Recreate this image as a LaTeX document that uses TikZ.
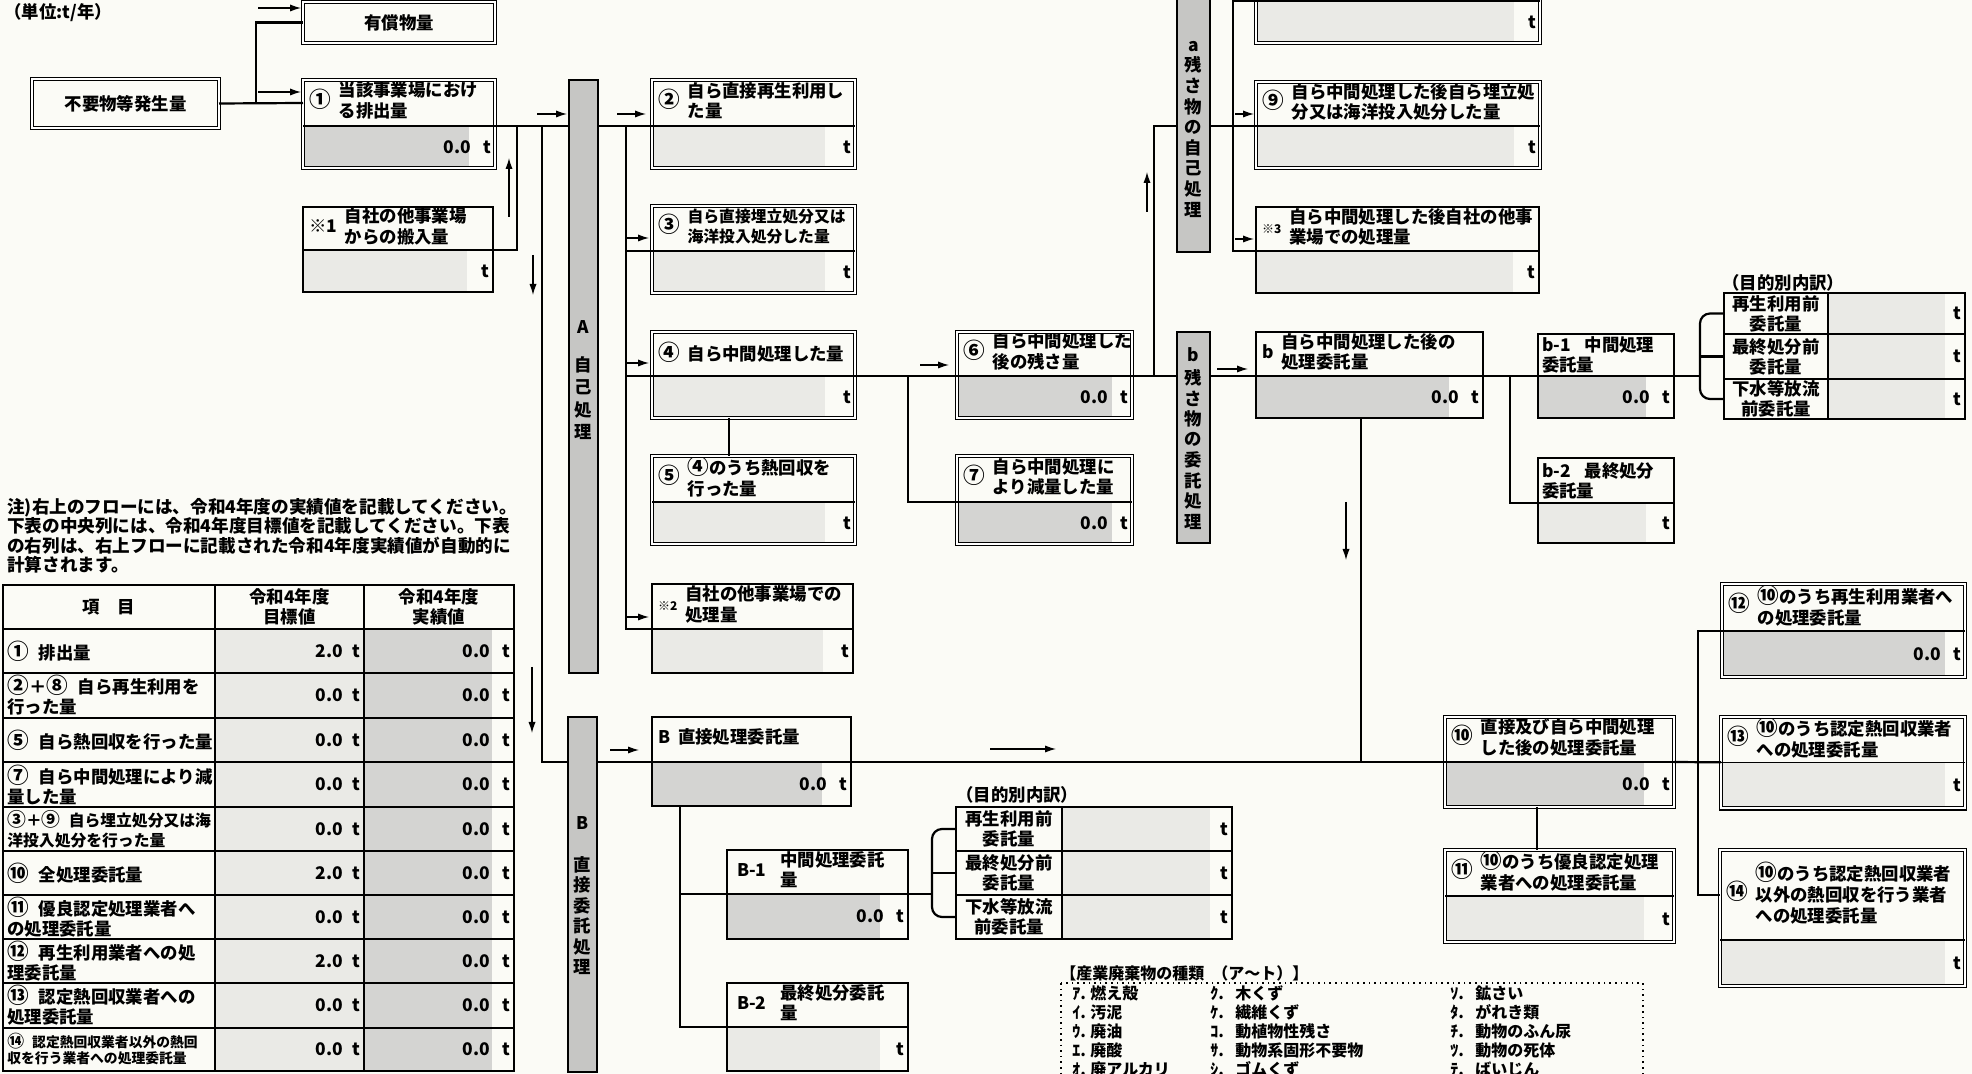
\documentclass[tikz,border=0pt]{standalone}
\usepackage{fontspec}
\setmainfont{Noto Sans CJK JP}
\usetikzlibrary{arrows.meta}

\definecolor{paper}{RGB}{251,251,246}
\definecolor{darkfill}{RGB}{212,212,210}
\definecolor{lightfill}{RGB}{234,234,230}
\definecolor{barfill}{RGB}{198,198,196}

\newcommand\lbl{\fontsize{8.7pt}{10pt}\selectfont\bfseries}
\newcommand\narrow{\fontsize{7.9pt}{10pt}\selectfont\bfseries}
\newcommand\notefont{\fontsize{8.8pt}{9.65pt}\selectfont\bfseries}
\newcommand\lgd{\fontsize{8pt}{9.5pt}\selectfont\bfseries}
\newcommand\smallrow{\fontsize{6.9pt}{8pt}\selectfont\bfseries}
\newcommand\sm{\fontsize{6pt}{7pt}\selectfont\bfseries}
% circled numbers, drawn a little larger
\newcommand\cn[1]{{\fontsize{10.8pt}{10pt}\selectfont#1}}
\newcommand\cns[1]{{\fontsize{9.4pt}{10pt}\selectfont#1}}

% header: number column + text column
\newcommand\hd[3][]{\begin{tabular}{@{}l@{\hspace{4pt}}l@{}}\hspace*{1pt}#2 & #1\begin{tabular}{@{}l@{}}#3\end{tabular}\end{tabular}}
% value row: amount and unit
\newcommand\tv[2][6pt]{#2\hspace{6pt}t\hspace*{#1}}

\tikzset{
  conn/.style={line width=1.1pt},
  flowarrow/.style={line width=0.6pt, -{Latex[length=5.5pt,width=3.6pt]}},
  sgl/.style={line width=0.8pt},
  dbl/.style={double, double distance=1.1pt, line width=0.55pt},
  hdr/.style={inner xsep=2pt, inner ysep=0pt, outer sep=0pt, align=left, font=\lbl},
  valcell/.style={inner xsep=2pt, inner ysep=0pt, outer sep=0pt, align=right, font=\lbl},
  darkval/.style={path picture={\fill[darkfill] (path picture bounding box.south west) rectangle ([xshift=-#1]path picture bounding box.north east);}},
  darkval/.default=13pt,
  lightval/.style={path picture={\fill[lightfill] (path picture bounding box.south west) rectangle ([xshift=-#1]path picture bounding box.north east);}},
  lightval/.default=13pt,
  plainbox/.style={draw, dbl, inner sep=0pt, outer sep=0pt, font=\lbl},
  procbar/.style={draw, line width=1pt, fill=barfill, inner sep=0pt, outer sep=0pt},
  barlbl/.style={font=\lbl, inner sep=0pt},
  cell/.style={draw, line width=0.7pt, inner xsep=2pt, inner ysep=0pt, outer sep=0pt, font=\lbl},
  itemlbl/.style={align=left, anchor=west, inner sep=0pt},
  lgdtxt/.style={font=\lgd, anchor=west, inner sep=0pt},
}

% box with header row and value row
\newcommand\flowbox[9][sgl]{%
  \pgfmathsetlengthmacro\fbw{#4*0.5pt-4pt}%
  \node[hdr, text width=\fbw, minimum height=#5*0.5pt, anchor=north west] (#2) at (#3) {#8};
  \node[valcell, #7, text width=\fbw, minimum height=#6*0.5pt, anchor=north west] (#2v) at (#2.south west) {#9};
  \draw[#1] (#2.north west) rectangle (#2v.south east);
  \draw[sgl] (#2.south west) -- (#2.south east);
}

\begin{document}
\begin{tikzpicture}[x=0.5pt,y=-0.5pt]
\useasboundingbox (0,0) rectangle (1972,1074);
\clip (0,0) rectangle (1972,1074);
\fill[paper] (0,0) rectangle (1972,1074);

\node[font=\lbl, anchor=west, inner sep=0pt] (unit) at (4,13) {（単位:t/年）};

% sources
\node[plainbox, minimum width=93.5pt, minimum height=24.5pt, anchor=north west] (gen) at (32,79) {不要物等発生量};
\node[plainbox, minimum width=96pt, minimum height=20.5pt, anchor=north west] (yusho) at (303,2) {有償物量};

% self processing
\flowbox[dbl]{q1}{303,80}{192}{46}{42}{darkval}{\hd{\cn{①}}{当該事業場におけ\\る排出量}}{\tv{0.0}}
\flowbox{s1}{303,207}{190}{43}{42}{lightval}{\hd{※1}{自社の他事業場\\からの搬入量}}{\tv{}}
\flowbox[dbl]{q2}{652,80}{203}{46}{42}{lightval=15pt}{\hd{\cn{②}}{自ら直接再生利用し\\た量}}{\tv[10pt]{}}
\flowbox[dbl]{q3}{652,206}{203}{45}{42}{lightval=15pt}{\hd[\narrow]{\cn{③}}{自ら直接埋立処分又は\\海洋投入処分した量}}{\tv[10pt]{}}
\flowbox[dbl]{q4}{652,332}{203}{44}{42}{lightval=15pt}{\hd{\cn{④}}{自ら中間処理した量}}{\tv[10pt]{}}
\flowbox[dbl]{q5}{652,456}{203}{46}{42}{lightval=15pt}{\hd{\cn{⑤}}{\cn{④}のうち熱回収を\\行った量}}{\tv[10pt]{}}
\flowbox{s2}{652,584}{201}{45}{44}{lightval=15pt}{\hd{\sm ※2}{自社の他事業場での\\処理量}}{\tv[10pt]{}}
\flowbox[dbl]{q6}{957,332}{175}{44}{42}{darkval=10pt}{\hd{\cn{⑥}}{自ら中間処理した\\後の残さ量}}{\tv[4pt]{0.0}}
\flowbox[dbl]{q7}{957,456}{175}{46}{42}{darkval=10pt}{\hd{\cn{⑦}}{自ら中間処理に\\より減量した量}}{\tv[4pt]{0.0}}

% residue, own processing
\flowbox[dbl]{q8}{1256,-86}{284}{87}{42}{lightval}{}{\tv{}}
\flowbox[dbl]{q9}{1256,82}{284}{44}{42}{lightval}{\hd{\cn{⑨}}{自ら中間処理した後自ら埋立処\\分又は海洋投入処分した量}}{\tv{}}
\flowbox{s3}{1256,207}{283}{44}{42}{lightval}{\hd{\sm ※3}{自ら中間処理した後自社の他事\\業場での処理量}}{\tv{}}

% residue, consigned
\flowbox{qb}{1256,332}{227}{44}{42}{darkval=17pt}{\hd{b}{自ら中間処理した後の\\処理委託量}}{\tv[10pt]{0.0}}
\flowbox{qb1}{1538,334}{136}{42}{42}{darkval=14pt}{b-1\hspace{7pt}中間処理\\委託量}{\tv[7pt]{0.0}}
\flowbox{qb2}{1538,458}{136}{45}{40}{lightval=14pt}{b-2\hspace{7pt}最終処分\\委託量}{\tv[7pt]{}}
\flowbox[dbl]{q12}{1722,584}{243}{47}{46}{darkval=10pt}{\hd{\cn{⑫}}{\cn{⑩}のうち再生利用業者へ\\の処理委託量}}{\tv[4pt]{0.0}}

% direct consignment
\flowbox{qB}{652,717}{199}{45}{44}{darkval=14.5pt}{\hd{B}{直接処理委託量}}{\tv[8pt]{0.0}}
\flowbox{qB1}{727,850}{181}{44}{45}{darkval=14pt}{\hd{\hspace{2pt}B-1\hspace{3pt}}{中間処理委託\\量}}{\tv[8pt]{0.0}}
\flowbox{qB2}{727,983}{181}{44}{44}{lightval=14pt}{\hd{\hspace{2pt}B-2\hspace{3pt}}{最終処分委託\\量}}{\tv[8pt]{}}
\flowbox[dbl]{q10}{1445,717}{229}{45}{45}{darkval=15pt}{\hd{\cn{⑩}}{直接及び自ら中間処理\\した後の処理委託量}}{\tv[10pt]{0.0}}
\flowbox[dbl]{q13}{1721,717}{244}{45}{46}{lightval=10pt}{\hd{\cn{⑬}}{\cn{⑩}のうち認定熱回収業者\\への処理委託量}}{\tv[4pt]{}}
\flowbox[dbl]{q11}{1445,850}{229}{46}{46}{lightval=15pt}{\hd{\cn{⑪}}{\cn{⑩}のうち優良認定処理\\業者への処理委託量}}{\tv[10pt]{}}
\flowbox[dbl]{q14}{1720,850}{245}{90}{46}{lightval=10pt}{\hd{\cn{⑭}}{\cn{⑩}のうち認定熱回収業者\\以外の熱回収を行う業者\\への処理委託量}}{\tv[4pt]{}}

% bars
\node[procbar, minimum width=14.5pt, minimum height=296.5pt, anchor=north west] (barA) at (569,80) {};
\node[procbar, minimum width=14.5pt, minimum height=177.5pt, anchor=north west] (barB) at (568,717) {};
\node[procbar, minimum width=16.5pt, minimum height=131pt, anchor=north west] (bara) at (1177,-10) {};
\node[procbar, minimum width=16.5pt, minimum height=105.5pt, anchor=north west] (barb) at (1177,332) {};
\node[barlbl] (barAl0) at (583.5,327) {A};
\foreach \c [count=\k] in {自,己,処,理}
  \node[barlbl] (barAl\k) at (583.5,{343+22.3*\k}) {\c};
\node[barlbl] (barBl0) at (582.5,823) {B};
\foreach \c [count=\k] in {直,接,委,託,処,理}
  \node[barlbl] (barBl\k) at (582.5,{844.6+20.4*\k}) {\c};
\node[barlbl] (baral0) at (1193.5,47) {a};
\foreach \c [count=\k] in {残,さ,物,の,自,己,処,理}
  \node[barlbl] (baral\k) at (1193.5,{44.3+20.7*\k}) {\c};
\node[barlbl] (barbl0) at (1193.5,355) {b};
\foreach \c [count=\k] in {残,さ,物,の,委,託,処,理}
  \node[barlbl] (barbl\k) at (1193.5,{357.5+20.5*\k}) {\c};

% trunk lines
\coordinate (tr0) at (256,0);
\coordinate (tr1) at (517,0);
\coordinate (tr2) at (542,0);
\coordinate (tr3) at (626,0);
\coordinate (tr4) at (729,0);
\coordinate (tr5) at (908,0);
\coordinate (tr6) at (1154,0);
\coordinate (tr7) at (1233,0);
\coordinate (tr8) at (1361,0);
\coordinate (tr9) at (1510,0);
\coordinate (tr10) at (1700,0);
\coordinate (tr11) at (680,0);
\coordinate (tr12) at (932,0);
\coordinate (tr13) at (1698,0);
\coordinate (tr14) at (1537,0);

% connectors
\draw[conn] (gen.east) -- (q1.west);
\draw[conn] (gen.east -| tr0) |- (yusho.west);
\draw[conn] (q1.south east) -- (q1.south east -| barA.west);
\draw[conn] (s1.south east) -| (tr1 |- q1.south east);
\draw[conn] (tr2 |- q1.south east) |- (barB.west |- qB.south west);
\draw[conn] (barA.east |- q2.south west) -- (q2.south west);
\draw[conn] (tr3 |- q2.south west) |- (s2.south west);
\draw[conn] (tr3 |- q3.south west) -- (q3.south west);
\draw[conn] (tr3 |- q4.south west) -- (q4.south west);
\draw[conn] (tr4 |- q4v.south) -- (tr4 |- q5.north);
\draw[conn] (q4.south east) -- (q6.south west);
\draw[conn] (tr5 |- q4.south east) |- (q7.south west);
\draw[conn] (q6.south east) -- (q6.south east -| barb.west);
\draw[conn] (tr6 |- q6.south east) |- (bara.west |- q9.south west);
\draw[conn] (bara.east |- q9.south west) -- (q9.south west);
\draw[conn] (q8.south west) -| (tr7 |- s3.south west) -- (s3.south west);
\draw[conn] (barb.east |- qb.south west) -- (qb.south west);
\draw[conn] (qb.south east) -- (qb1.south west);
\draw[conn] (tr9 |- qb.south east) |- (qb2.south west);
\draw[conn] (tr8 |- qbv.south) -- (tr8 |- qB.south east);
\draw[conn] (barB.east |- qB.south west) -- (qB.south west);
\draw[conn] (qB.south east) -- (q10.south west);
\draw[conn] (tr11 |- qBv.south) |- (qB2.south west);
\draw[conn] (tr11 |- qB1.south west) -- (qB1.south west);
\draw[conn] (q10.south east) -- (q13.south west);
\draw[conn] (q12.south west) -| (tr13 |- q14.west) -- (q14.west);
\draw[conn] (tr14 |- q10v.south) -- (tr14 |- q11.north);

% direction arrows
\foreach \a/\b in {{258,8}/{301,8}, {258,92}/{301,92}, {509,217}/{509,158}, {533,255}/{533,295},
    {537,114}/{567,114}, {617,114}/{646,114}, {627,238}/{649,238}, {627,363}/{649,363},
    {627,617}/{649,617}, {920,365}/{949,365}, {1147,212}/{1147,172}, {1235,114}/{1254,114},
    {1235,239}/{1254,239}, {1217,369}/{1248,369}, {1346,502}/{1346,560}, {532,667}/{532,733},
    {610,750}/{639,750}, {990,749}/{1056,749}}
  \draw[flowarrow] (\a) -- (\b);

% breakdown, upper
\node[font=\lbl, anchor=west, inner sep=0pt] (ucap) at (1722,283) {（目的別内訳）};
\foreach \t/\h/\lab [count=\i] in {293/41/{再生利用前\\委託量}, 334/45/{最終処分前\\委託量}, 379/40/{下水等放流\\前委託量}} {
  \node[cell, align=center, minimum width=52pt, minimum height=\h*0.5pt, anchor=north west] (ua\i) at (1724,\t) {\lab};
  \node[cell, lightval=10pt, align=right, text width=64.5pt, minimum height=\h*0.5pt, anchor=north west] (uv\i) at (ua\i.north east) {\tv[3pt]{}};
}
\draw[conn, rounded corners=5pt] (ua1.west) -| (tr10 |- ua3.west) -- (ua3.west);
\draw[conn] (ua2.west) -- (tr10 |- ua2.west);
\draw[conn] (qb1.south east) -- (tr10 |- qb1.south east);

% breakdown, lower
\node[font=\lbl, anchor=west, inner sep=0pt] (lcap) at (956,795) {（目的別内訳）};
\foreach \t/\h/\lab [count=\i] in {807/44/{再生利用前\\委託量}, 851/44/{最終処分前\\委託量}, 895/44/{下水等放流\\前委託量}} {
  \node[cell, align=center, minimum width=53pt, minimum height=\h*0.5pt, anchor=north west] (la\i) at (956,\t) {\lab};
  \node[cell, lightval=11pt, align=right, text width=81pt, minimum height=\h*0.5pt, anchor=north west] (lv\i) at (la\i.north east) {\tv[5pt]{}};
}
\draw[conn, rounded corners=5pt] (la1.west) -| (tr12 |- la3.west) -- (la3.west);
\draw[conn] (la2.west) -- (tr12 |- la2.west);
\draw[conn] (qB1.south east) -- (tr12 |- qB1.south east);

% note and summary table
\node[font=\notefont, align=left, anchor=north west, inner sep=0pt] (note) at (7,498)
  {注)右上のフローには、令和4年度の実績値を記載してください。\\下表の中央列には、令和4年度目標値を記載してください。下表\\の右列は、右上フローに記載された令和4年度実績値が自動的に\\計算されます。};
\node[cell, align=center, minimum width=106pt, minimum height=22pt, anchor=north west] (hitem) at (3,585) {項\hspace{1em}目};
\node[cell, align=center, minimum width=74.5pt, minimum height=22pt, anchor=north west] (hgoal) at (hitem.north east) {令和4年度\\目標値};
\node[cell, align=center, minimum width=75pt, minimum height=22pt, anchor=north west] (hact) at (hgoal.north east) {令和4年度\\実績値};
\foreach \t/\h/\fnt/\lab/\goal [count=\i] in {
    629/44/\lbl/{\cn{①}\hspace{5pt}排出量}/2.0,
    673/45/\lbl/{\cn{②}＋\cn{⑧}\hspace{5pt}自ら再生利用を\\行った量}/0.0,
    718/44/\lbl/{\cn{⑤}\hspace{5pt}自ら熱回収を行った量}/0.0,
    762/45/\lbl/{\cn{⑦}\hspace{5pt}自ら中間処理により減\\量した量}/0.0,
    807/44/\narrow/{\cns{③}＋\cns{⑨}\hspace{4pt}自ら埋立処分又は海\\洋投入処分を行った量}/0.0,
    851/44/\lbl/{\cn{⑩}\hspace{5pt}全処理委託量}/2.0,
    895/44/\lbl/{\cn{⑪}\hspace{5pt}優良認定処理業者へ\\の処理委託量}/0.0,
    939/44/\lbl/{\cn{⑫}\hspace{5pt}再生利用業者への処\\理委託量}/2.0,
    983/45/\lbl/{\cn{⑬}\hspace{5pt}認定熱回収業者への\\処理委託量}/0.0,
    1028/43/\smallrow/{{\fontsize{8.4pt}{8pt}\selectfont ⑭}\hspace{4pt}認定熱回収業者以外の熱回\\収を行う業者への処理委託量}/0.0} {
  \node[cell, minimum width=106pt, minimum height=\h*0.5pt, anchor=north west] (item\i) at (3,\t) {};
  \node[itemlbl, font=\fnt] (itemt\i) at ([xshift=2pt]item\i.west) {\lab};
  \node[cell, fill=lightfill, align=right, text width=70.5pt, minimum height=\h*0.5pt, anchor=north west] (goal\i) at (item\i.north east) {\goal\hspace{4.5pt}t\hspace*{5pt}};
  \node[cell, darkval=11pt, align=right, text width=71pt, minimum height=\h*0.5pt, anchor=north west] (act\i) at (goal\i.north east) {\tv[5pt]{0.0}};
}
\draw[line width=1.3pt] (hitem.north west) rectangle (act10.south east);

% legend of waste types
\node[lgdtxt] (lgtitle) at (1060,973) {【産業廃棄物の種類\hspace{4pt}（ア〜ト）】};
\draw[dotted, line width=0.8pt] (1061,983) rectangle (1643,1110);
\foreach \ka/\ta/\kb/\tb/\kc/\tc [count=\r from 0] in {
    ｱ/燃え殻/ｸ/木くず/ｿ/鉱さい,
    ｲ/汚泥/ｹ/繊維くず/ﾀ/がれき類,
    ｳ/廃油/ｺ/動植物性残さ/ﾁ/動物のふん尿,
    ｴ/廃酸/ｻ/動物系固形不要物/ﾂ/動物の死体,
    ｵ/廃アルカリ/ｼ/ゴムくず/ﾃ/ばいじん} {
  \node[lgdtxt] (lga\r) at (1072,{993+19*\r}) {\makebox[9pt][l]{\ka.}\ta};
  \node[lgdtxt] (lgb\r) at (1210,{993+19*\r}) {\makebox[12.5pt][l]{\kb.}\tb};
  \node[lgdtxt] (lgc\r) at (1450,{993+19*\r}) {\makebox[12.5pt][l]{\kc.}\tc};
}
\end{tikzpicture}
\end{document}
